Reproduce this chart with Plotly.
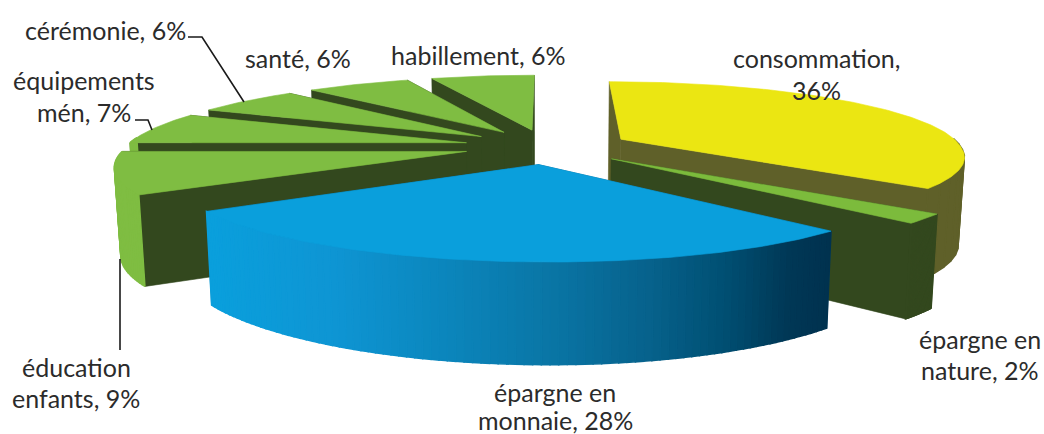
import numpy as np
import plotly.graph_objects as go

# ---- data ----
categories = ["consommation", "épargne en nature", "épargne en monnaie", "éducation enfants",
              "équipements mén", "cérémonie", "santé", "habillement"]
values = [36, 2, 28, 9, 7, 6, 6, 6]

# ---- styles ----
top_colors = ["#EBE612", "#7CBB3C", "#0A9FDC", "#7FBD42", "#7FBD42", "#7FBD42", "#7FBD42", "#7FBD42"]
wall_colors = ["#5F6029", "#33481E", "#0A6590", "#33481E", "#33481E", "#33481E", "#33481E", "#33481E"]
rim_colors = ["#5F6029", "#33481E", None, "#7FBD42", "#7FBD42", "#7FBD42", "#7FBD42", "#7FBD42"]
grad_x = [205, 330, 420, 550, 650, 730, 790, 832]
grad_rgb = np.array([[10, 160, 221], [15, 150, 212], [12, 138, 194], [10, 118, 166],
                     [7, 98, 140], [0, 78, 113], [0, 56, 86], [0, 50, 79]])

# ---- projection of the tilted pie onto the page (page px, y downward) ----
CX, CY, RX, RY, K, EXPLODE, SKEW = 547.0, 146.5, 340.0, 71.0, 0.19, 0.245, 50.0


def project(u, v):
    s = 1 / (1 - K * v)
    return CX + RX * u * s + SKEW * np.maximum(0, s - 1), CY + RY * v * s


def drop(x, y, v):
    return CX + (x - CX) * 0.985, y + 88 + 9.5 * v ** 2


fig = go.Figure()


def poly(xs, ys, color, lw=0.6):
    fig.add_trace(go.Scatter(x=list(xs) + [xs[0]], y=list(ys) + [ys[0]], mode="lines", fill="toself",
                             fillcolor=color, line=dict(color=color, width=lw),
                             hoverinfo="skip", showlegend=False))


edges = np.cumsum([0] + values) / sum(values) * 2 * np.pi


def slice_geometry(i):
    mid = (edges[i] + edges[i + 1]) / 2
    ua, va = EXPLODE * np.sin(mid), -EXPLODE * np.cos(mid)
    th = np.linspace(edges[i], edges[i + 1], max(8, values[i] * 4))
    return ua, va, th


def draw_slice(i):
    ua, va, th = slice_geometry(i)
    u = ua + np.sin(th)
    v = va - np.cos(th)
    x, y = project(u, v)
    ax, ay = project(ua, va)
    bax, bay = drop(ax, ay, va)
    # radial faces, far one first
    faces = sorted([0, -1], key=lambda j: v[j])
    for j in faces:
        bx, by = drop(x[j], y[j], v[j])
        poly([ax, x[j], bx, bax], [ay, y[j], by, bay], wall_colors[i])
    # outer rim, as small quads: only the part turned to the viewer
    th_f = np.linspace(edges[i], edges[i + 1], 90 if rim_colors[i] is None else 30)
    keep = np.cos(th_f) < 0.08
    if keep.sum() > 1:
        th_f = th_f[keep]
        ru, rv = ua + np.sin(th_f), va - np.cos(th_f)
        rx, ry = project(ru, rv)
        bx, by = drop(rx, ry, rv)
        for k in range(len(rx) - 1):
            if rim_colors[i] is not None:
                col = rim_colors[i]
            else:
                mx = (rx[k] + rx[k + 1]) / 2
                col = "rgb(%d,%d,%d)" % tuple(int(np.interp(mx, grad_x, grad_rgb[:, n])) for n in range(3))
            poly([rx[k], rx[k + 1], bx[k + 1], bx[k]], [ry[k], ry[k + 1], by[k + 1], by[k]], col, lw=1.5)
    # top surface
    poly([ax] + list(x), [ay] + list(y), top_colors[i])


# painter's order, back to front
for i in [7, 6, 5, 4, 3, 0, 1, 2]:
    draw_slice(i)

# ---- leader lines ----
leaders = [([188, 202, 244], [37, 37, 102]), ([135, 148, 152], [120, 120, 130]), ([120, 120], [259, 350])]
for lx, ly in leaders:
    fig.add_trace(go.Scatter(x=lx, y=ly, mode="lines", line=dict(color="#1a1a1a", width=1.6),
                             hoverinfo="skip", showlegend=False))

# ---- labels (text, centre x, centre y) ----
labels = [("cérémonie, 6%", 105, 30), ("santé, 6%", 298, 58), ("habillement, 6%", 478, 55),
          ("consommation,", 816, 58), ("36%", 816, 90),
          ("équipements", 84, 80), ("mén, 7%", 84, 112),
          ("éducation", 76, 367), ("enfants, 9%", 76, 398),
          ("épargne en", 555, 392), ("monnaie, 28%", 555, 420),
          ("épargne en", 980, 339), ("nature, 2%", 980, 370)]
for t, lx, ly in labels:
    fig.add_annotation(x=lx, y=ly, text=t, showarrow=False, xanchor="center", yanchor="middle",
                       font=dict(family="Lato", size=25, color="#2b2b2b"))

fig.update_layout(width=1044, height=434, margin=dict(l=0, r=0, t=0, b=0),
                  paper_bgcolor="white", plot_bgcolor="white", showlegend=False,
                  xaxis=dict(range=[0, 1044], visible=False, fixedrange=True),
                  yaxis=dict(range=[434, 0], visible=False, fixedrange=True))
fig.write_html("out.html", config={"displayModeBar": False},
               post_script="document.documentElement.style.overflow='hidden';document.body.style.margin='0';")
